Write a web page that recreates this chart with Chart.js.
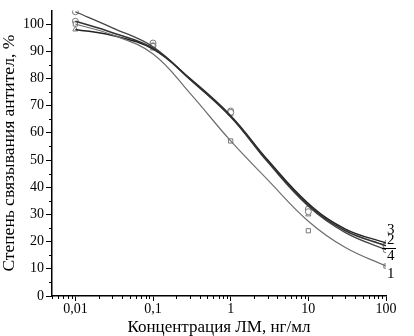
<!DOCTYPE html>
<html><head><meta charset="utf-8">
<script src="https://cdn.jsdelivr.net/npm/chart.js@4.4.1/dist/chart.umd.min.js"></script>
<style>html,body{margin:0;padding:0;background:#fff}canvas{display:block}</style>
</head><body>
<canvas id="c" width="414" height="336"></canvas>
<script>
// curve sample points
const curveX = [0.01, 0.03, 0.1, 0.3, 1, 3, 10, 30, 100];
const curve1 = [100, 96, 89, 74.5, 57, 42.7, 27.5, 17.8, 11];
const curve2 = [101, 96.8, 91, 79.6, 66, 49.5, 33.5, 24, 18.5];
const curve3 = [98, 95.8, 90.8, 79.9, 66.3, 50, 34, 24.6, 19.5];
const curve4 = [104.5, 98.6, 91.6, 79.6, 65.8, 49.2, 33, 23.3, 17];
// measured points
const pointX = [0.01, 0.1, 1, 10, 100];
const points1 = [100, 92, 57, 24, 11];
const points2 = [101, 92, 67.5, 31, 18.5];
const points3 = [98, 91, 67, 30, 19.5];
const points4 = [104.5, 93, 68, 32, 17];
// axes
const xTicks = [0.01, 0.1, 1, 10, 100];
const xTickLabels = ['0,01', '0,1', '1', '10', '100'];
const yTicks = [0, 10, 20, 30, 40, 50, 60, 70, 80, 90, 100];
const curveLabels = ['1', '2', '3', '4'];
const labelY = [8, 20.7, 24.1, 14.8];
const xTitle = 'Концентрация ЛМ, нг/мл';
const yTitle = 'Степень связывания антител, %';

const serif = "'Liberation Serif','Times New Roman',serif";
const pts = (xs, ys) => xs.map((x, i) => ({x, y: ys[i]}));

function lineDs(ys, color, w) {
  return {type: 'line', data: pts(curveX, ys), borderColor: color, borderWidth: w,
    pointRadius: 0, tension: 0.4, fill: false};
}
function markDs(ys, style) {
  return {type: 'scatter', data: pts(pointX, ys), borderColor: '#7a7a7a', backgroundColor: '#fff',
    borderWidth: 1, pointRadius: 3, pointStyle: style, showLine: false};
}

const extras = {
  id: 'extras',
  afterDraw(chart) {
    const ctx = chart.ctx, xs = chart.scales.x, ys = chart.scales.y;
    ctx.save();
    ctx.strokeStyle = '#000'; ctx.lineWidth = 1;
    ctx.beginPath();
    for (let d = -3; d <= 1; d++) {
      for (let m = 2; m <= 9; m++) {
        const v = m * Math.pow(10, d);
        if (v < xs.min || v > xs.max) continue;
        const px = Math.round(xs.getPixelForValue(v)) + 0.5;
        ctx.moveTo(px, ys.bottom); ctx.lineTo(px, ys.bottom + 3);
      }
    }
    for (let v = 5; v < 105; v += 10) {
      const py = Math.round(ys.getPixelForValue(v)) + 0.5;
      ctx.moveTo(xs.left, py); ctx.lineTo(xs.left - 3, py);
    }
    ctx.stroke();
    ctx.fillStyle = '#000';
    ctx.font = '15px ' + serif;
    ctx.textAlign = 'left'; ctx.textBaseline = 'middle';
    const lx = xs.getPixelForValue(100) + 1;
    curveLabels.forEach((t, i) => ctx.fillText(t, lx, ys.getPixelForValue(labelY[i])));
    const py = Math.round(ys.getPixelForValue(17.8)) + 0.5;
    ctx.beginPath(); ctx.moveTo(lx - 5, py); ctx.lineTo(lx + 9, py); ctx.stroke();
    ctx.restore();
  }
};

new Chart(document.getElementById('c'), {
  type: 'line',
  data: {datasets: [
    lineDs(curve1, '#6e6e6e', 1.2),
    lineDs(curve2, '#333', 1.5),
    lineDs(curve3, '#222', 1.5),
    lineDs(curve4, '#444', 1.3),
    markDs(points1, 'rect'),
    markDs(points2, 'circle'),
    markDs(points3, 'triangle'),
    markDs(points4, 'circle')
  ]},
  options: {
    responsive: false, animation: false, devicePixelRatio: 1,
    layout: {padding: {left: 0, right: 28, top: 7, bottom: 0}},
    plugins: {legend: {display: false}, tooltip: {enabled: false}},
    scales: {
      x: {type: 'logarithmic', min: 0.005, max: 100,
        afterFit: s => { s.height = 40; },
        afterBuildTicks: s => { s.ticks = xTicks.map(v => ({value: v, major: true})); },
        ticks: {autoSkip: false, maxRotation: 0, color: '#000', padding: 0,
          font: {family: serif, size: 14},
          callback: (v) => xTickLabels[xTicks.indexOf(v)] ?? ''},
        grid: {display: true, drawOnChartArea: false, drawTicks: true, tickLength: 5, color: '#000'},
        border: {display: true, color: '#000', width: 1.5},
        title: {display: true, text: xTitle, color: '#000', font: {family: serif, size: 17}, padding: {top: 0, bottom: -2}}
      },
      y: {type: 'linear', min: 0, max: 105,
        afterFit: s => { s.width = 52; },
        afterBuildTicks: s => { s.ticks = yTicks.map(v => ({value: v})); },
        ticks: {color: '#000', padding: 2, font: {family: serif, size: 14}},
        grid: {display: true, drawOnChartArea: false, drawTicks: true, tickLength: 6, color: '#000'},
        border: {display: true, color: '#000', width: 1.5},
        title: {display: true, text: yTitle, color: '#000', font: {family: serif, size: 17.5}, padding: {top: -1, bottom: 0}}
      }
    }
  },
  plugins: [extras]
});
</script>
</body></html>
